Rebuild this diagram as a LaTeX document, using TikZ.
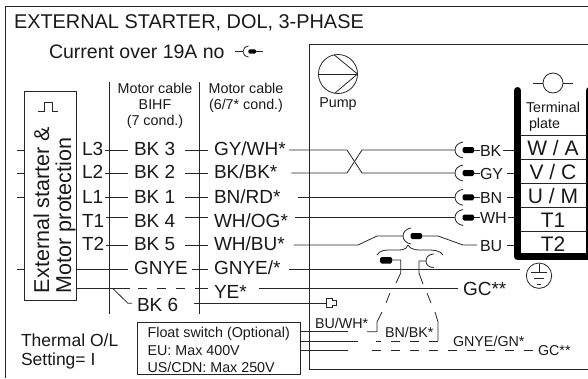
\documentclass[tikz,border=0pt]{standalone}
\usepackage{fontspec}
\setmainfont{Liberation Sans}
\tikzset{
  wire/.style={line width=0.8pt, draw=black!85},
  dashwire/.style={wire, dash pattern=on 9pt off 10pt},
  txt/.style={anchor=base west, inner sep=0pt, outer sep=0pt, text=black!90},
  big/.style={txt, font=\fontsize{19}{19}\selectfont},
  mid/.style={txt, font=\fontsize{14.3}{14.3}\selectfont},
  plug/.pic={
    \coordinate (-in) at (0,0);
    \coordinate (-out) at (19,0);
    \draw[wire] (8,-8) .. controls (3,-7) and (0,-4) .. (0,0) .. controls (0,4) and (3,7) .. (8,8);
    \fill[rounded corners=1.5pt] (7.5,-3) rectangle (19,3);
  },
  endplug/.pic={
    \coordinate (-in) at (0,0);
    \draw[wire] (0,-4.5) -- (6,-4.5) -- (6,-2.5) -- (10,-2.5) -- (10,2.5) -- (6,2.5) -- (6,4.5) -- (0,4.5) -- cycle;
  }
}
\begin{document}
\begin{tikzpicture}[x=1pt,y=-1pt]
  \useasboundingbox (0,0) rectangle (588,378);

  % frames
  \draw[wire] (5.7,378) -- (5.7,6.5) -- (588,6.5);
  \draw[wire] (588,44.5) -- (309.5,44.5) -- (309.5,369) -- (588,369);
  \draw[wire] (109.5,82) -- (109.5,314);
  \draw[wire] (199,82) -- (199,314);

  % rows
  \coordinate (rowa) at (0,150);
  \coordinate (rowb) at (0,173);
  \coordinate (rowc) at (0,197.3);
  \coordinate (rowd) at (0,217.5);
  \coordinate (rowe) at (0,245);
  \coordinate (rowf) at (0,269);
  \coordinate (rowg) at (0,288.7);
  \coordinate (rowh) at (0,303.3);
  \coordinate (rowi) at (0,331.7);
  \coordinate (rowj) at (0,341);
  \coordinate (rowk) at (0,350.7);
  \coordinate (stub) at (17,0);
  \coordinate (termleft) at (514,0);

  % headings
  \node[txt, font=\fontsize{19.9}{19.9}\selectfont] (title) at (14,28) {EXTERNAL STARTER, DOL, 3-PHASE};
  \node[txt, font=\fontsize{19.5}{19.5}\selectfont] (current) at (49,58) {Current over 19A no};
  \pic[scale=0.7] (plugtop) at (243,51.5) {plug};
  \coordinate (topleft) at (235,51.5);
  \coordinate (topright) at (263,51.5);
  \draw[wire] (topleft) -- (plugtop-in);
  \draw[wire] (plugtop-out) -- (topright);

  \node[mid, anchor=base] (biha) at (155,93) {Motor cable};
  \node[mid, anchor=base] (bihb) at (155,109) {BIHF};
  \node[mid, anchor=base] (bihc) at (155,125) {(7 cond.)};
  \node[mid, anchor=base] (cabla) at (246,93) {Motor cable};
  \node[mid, anchor=base] (cablb) at (246,109) {(6/7* cond.)};

  % starter box
  \node[draw=black!85, line width=0.8pt, minimum width=52pt, minimum height=208.3pt, inner sep=0pt, outer sep=0pt] (extbox) at (50.7,196) {};
  \draw[wire] (38,111) -- (44,111) -- (44,102) -- (52,102) -- (52,111) -- (58,111);
  \node[txt, rotate=90, font=\fontsize{21.5}{21.5}\selectfont] (exta) at (49,293) {External starter \&};
  \node[txt, rotate=90, font=\fontsize{21.5}{21.5}\selectfont] (extb) at (71,293) {Motor protection};
  \draw[wire] (stub |- rowa) -- (extbox.west |- rowa);
  \draw[wire] (stub |- rowb) -- (extbox.west |- rowb);
  \draw[wire] (stub |- rowc) -- (extbox.west |- rowc);
  \draw[wire] (stub |- rowf) -- (extbox.west |- rowf);

  % cable columns
  \node[big] (lthree) at (82,155) {L3};
  \node[big] (ltwo) at (82,178.5) {L2};
  \node[big] (lone) at (82,203) {L1};
  \node[big] (tone) at (82,227) {T1};
  \node[big] (ttwo) at (82,250) {T2};
  \node[big] (bkthree) at (134,155) {BK 3};
  \node[big] (bktwo) at (134,178.5) {BK 2};
  \node[big] (bkone) at (134,203) {BK 1};
  \node[big] (bkfour) at (134,227) {BK 4};
  \node[big] (bkfive) at (134,250) {BK 5};
  \node[big] (gnye) at (134,274) {GNYE};
  \node[big] (bksix) at (137,311) {BK 6};
  \node[big] (gywh) at (214,155) {GY/WH*};
  \node[big] (bkbk) at (214,178.5) {BK/BK*};
  \node[big] (bnrd) at (214,203) {BN/RD*};
  \node[big] (whog) at (214,227) {WH/OG*};
  \node[big] (whbu) at (214,250) {WH/BU*};
  \node[big] (gnyestar) at (214,274) {GNYE/*};
  \node[big] (yestar) at (214,298) {YE*};

  \draw[wire, shorten <=2pt, shorten >=6pt] (lthree.east |- rowa) -- (bkthree.west |- rowa);
  \draw[wire, shorten <=2pt, shorten >=6pt] (ltwo.east |- rowb) -- (bktwo.west |- rowb);
  \draw[wire, shorten <=2pt, shorten >=6pt] (lone.east |- rowc) -- (bkone.west |- rowc);
  \draw[wire, shorten <=2pt, shorten >=6pt] (tone.east |- rowd) -- (bkfour.west |- rowd);
  \draw[wire, shorten <=2pt, shorten >=6pt] (ttwo.east |- rowe) -- (bkfive.west |- rowe);
  \draw[wire, shorten >=6pt] (extbox.east |- rowf) -- (gnye.west |- rowf);
  \draw[wire, shorten <=10pt, shorten >=6pt] (bkthree.east |- rowa) -- (gywh.west |- rowa);
  \draw[wire, shorten <=10pt, shorten >=6pt] (bktwo.east |- rowb) -- (bkbk.west |- rowb);
  \draw[wire, shorten <=10pt, shorten >=6pt] (bkone.east |- rowc) -- (bnrd.west |- rowc);
  \draw[wire, shorten <=10pt, shorten >=6pt] (bkfour.east |- rowd) -- (whog.west |- rowd);
  \draw[wire, shorten <=10pt, shorten >=6pt] (bkfive.east |- rowe) -- (whbu.west |- rowe);
  \draw[wire, shorten <=4pt, shorten >=6pt] (gnye.east |- rowf) -- (gnyestar.west |- rowf);

  % yellow conductor and BK 6
  \coordinate (yesolid) at (130,288.7);
  \coordinate (yedasha) at (138,288.7);
  \coordinate (yedashb) at (188,288.7);
  \coordinate (yesolidb) at (195,288.7);
  \coordinate (bksplit) at (113,288.7);
  \coordinate (bkknee) at (128,303.3);
  \draw[wire] (extbox.east |- rowg) -- (yesolid);
  \draw[dashwire] (yedasha) -- (yedashb);
  \draw[wire, shorten >=6pt] (yesolidb) -- (yestar.west |- rowg);
  \draw[wire, shorten >=5pt] (bksplit) -- (bkknee) -- (bksix.west |- rowh);
  \pic (plugend) at (326,303.3) {endplug};
  \draw[wire, shorten <=16pt] (bksix.east |- rowh) -- (plugend-in);
  \node[big] (gcmid) at (463,295) {GC**};
  \draw[wire, shorten <=12pt, shorten >=5pt] (yestar.east |- rowg) -- (gcmid.west |- rowg);

  % pump
  \node[draw=black!85, line width=0.8pt, circle, minimum size=39pt, inner sep=0pt, outer sep=0pt] (pump) at (338,74) {};
  \draw[wire] (pump.west) -- (pump.east);
  \draw[wire] (334,54.7) -- (pump.east) -- (335,93);
  \node[mid, anchor=base] (pumplab) at (338,107) {Pump};

  % terminal plate
  \draw[line width=7pt, line cap=round, line join=round] (517.5,90.5) -- (517.5,256.5) -- (589.5,256.5) -- (589.5,90.5);
  \node[draw=black!85, line width=0.8pt, circle, minimum size=20pt, inner sep=0pt, outer sep=0pt] (termsym) at (553,83) {};
  \coordinate (terma) at (533,83);
  \coordinate (termb) at (573,83);
  \draw[wire] (terma) -- (termsym.west);
  \draw[wire] (termsym.east) -- (termb);
  \node[mid] (terml) at (526,112) {Terminal};
  \node[mid] (termp) at (529,128) {plate};
  \foreach \y in {135,159,183,207,231}
    \draw[wire] (520,\y) -- (587,\y);
  \node[big, anchor=base, font=\fontsize{21}{21}\selectfont] (cellw) at (553,155) {W / A};
  \node[big, anchor=base, font=\fontsize{21}{21}\selectfont] (cellv) at (553,179) {V / C};
  \node[big, anchor=base, font=\fontsize{21}{21}\selectfont] (cellu) at (553,203) {U / M};
  \node[big, anchor=base, font=\fontsize{21}{21}\selectfont] (cellt) at (553,227) {T1};
  \node[big, anchor=base, font=\fontsize{21}{21}\selectfont] (celltt) at (553,251) {T2};

  % plugs towards the terminals
  \pic (plugbk) at (455,150) {plug};
  \pic (pluggy) at (455,173) {plug};
  \pic (plugbn) at (455,197.3) {plug};
  \pic (plugwh) at (455,217.5) {plug};
  \node[mid, font=\fontsize{16}{16}\selectfont] (bk) at (480,156) {BK};
  \node[mid, font=\fontsize{16}{16}\selectfont] (gy) at (480,179.5) {GY};
  \node[mid, font=\fontsize{16}{16}\selectfont] (bn) at (480,203) {BN};
  \node[mid, font=\fontsize{16}{16}\selectfont] (wh) at (480,223) {WH};
  \node[mid, font=\fontsize{16}{16}\selectfont] (bu) at (480,251) {BU};
  \draw[wire, shorten <=3pt] (gywh.east |- rowa) -- (347,150) -- (362,173) -- (pluggy-in);
  \draw[wire, shorten <=14pt] (bkbk.east |- rowb) -- (347,173) -- (362,150) -- (plugbk-in);
  \draw[wire, shorten <=17pt] (bnrd.east |- rowc) -- (plugbn-in);
  \draw[wire, shorten <=7pt] (whog.east |- rowd) -- (plugwh-in);
  \draw[wire] (plugbk-out) -- (bk.west |- rowa);
  \draw[wire] (pluggy-out) -- (gy.west |- rowb);
  \draw[wire] (plugbn-out) -- (bn.west |- rowc);
  \draw[wire] (plugwh-out) -- (wh.west |- rowd);
  \draw[wire, shorten <=2pt] (bk.east |- rowa) -- (termleft |- rowa);
  \draw[wire, shorten <=4pt] (gy.east |- rowb) -- (termleft |- rowb);
  \draw[wire, shorten <=5pt] (bn.east |- rowc) -- (termleft |- rowc);
  \draw[wire, shorten <=1pt] (wh.east |- rowd) -- (termleft |- rowd);
  \draw[wire, shorten <=5pt] (bu.east |- rowe) -- (termleft |- rowe);

  % float switch plug group
  \pic (plugbu) at (403,236) {plug};
  \draw[wire, shorten <=9pt] (whbu.east |- rowe) -- (358,245) -- (377,236) -- (plugbu-in);
  \draw[wire, shorten >=3pt] (plugbu-out) -- (438,236) -- (463,245) -- (bu.west |- rowe);
  \draw[wire] (377,255) .. controls (380,250) and (385,250) .. (392,250) .. controls (400,250) and (406,251) .. (408,245);
  \draw[wire] (443,255) .. controls (440,250) and (433,250) .. (426,250) .. controls (418,250) and (412,251) .. (408,245);
  \fill[rounded corners=1.5pt] (380,257) rectangle (392,263.5);
  \draw[wire] (392,260) -- (400.7,260) -- (400.7,273) -- (396,283);
  \draw[wire] (390,293) -- (386,303);
  \draw[wire] (382,312) -- (377,322) -- (377,331.7) -- (367,331.7);
  \draw[wire] (434,254) .. controls (429,254) and (426,257) .. (426,261) .. controls (426,265) and (429,267.5) .. (434,267.5);
  \draw[wire] (426,261) -- (419,261) -- (419,273) -- (423,284);
  \draw[wire] (427,293) -- (431,303);
  \draw[wire] (435,312) -- (438,322) -- (438,341);
  \draw[dashwire] (438,341) -- (376,341);

  % float switch
  \node[draw=black!85, line width=0.8pt, minimum width=163pt, minimum height=52pt, inner sep=0pt, outer sep=0pt] (floatbox) at (218.5,348) {};
  \node[mid] (floata) at (147.6,337) {Float switch (Optional)};
  \node[mid] (floatb) at (147.6,355) {EU: Max 400V};
  \node[mid] (floatc) at (147.6,372) {US/CDN: Max 250V};
  \node[txt, font=\fontsize{17.5}{17.5}\selectfont] (therma) at (21,346) {Thermal O/L};
  \node[txt, font=\fontsize{17.5}{17.5}\selectfont] (thermb) at (21,365) {Setting= I};
  \coordinate (buwhend) at (348,331.7);
  \coordinate (bnbkend) at (358,341);
  \coordinate (gnend) at (348,350.7);
  \coordinate (gnstart) at (372,350.7);
  \draw[wire] (floatbox.east |- rowi) -- (buwhend);
  \draw[wire] (floatbox.east |- rowj) -- (bnbkend);
  \draw[wire] (floatbox.east |- rowk) -- (gnend);
  \node[mid] (buwh) at (315,328) {BU/WH*};
  \node[mid] (bnbk) at (385,337) {BN/BK*};
  \node[mid] (gnyegn) at (453,346) {GNYE/GN*};
  \node[mid] (gclow) at (538,355) {GC**};
  \draw[dashwire] (gnstart) -- (gclow.west |- rowk);

  % earth
  \node[draw=black!85, line width=0.8pt, circle, minimum size=25.4pt, inner sep=0pt, outer sep=0pt] (earth) at (539,275.7) {};
  \draw[wire] (539,264) -- (539,272);
  \draw[wire] (531,272) -- (547,272);
  \draw[wire] (534,278) -- (544,278);
  \draw[wire] (537,284) -- (541,284);
  \draw[wire, shorten <=8pt, shorten >=6pt] (gnyestar.east |- rowf) -- (earth.west |- rowf);
\end{tikzpicture}
\end{document}
